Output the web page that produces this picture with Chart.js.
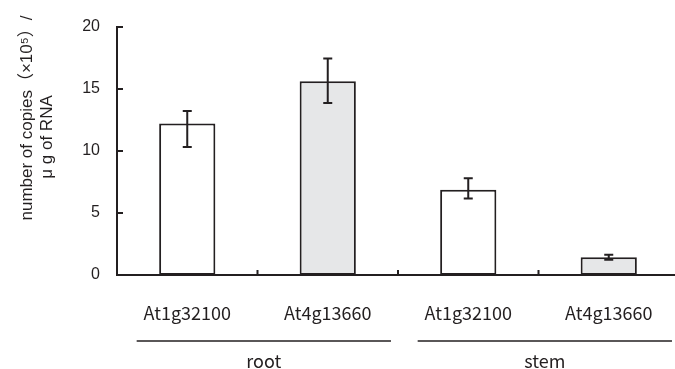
<!DOCTYPE html>
<html>
<head>
<meta charset="utf-8">
<script src="https://cdn.jsdelivr.net/npm/chart.js@4.4.1/dist/chart.umd.min.js"></script>
<style>
  html, body { margin: 0; padding: 0; background: #fff; overflow: hidden; }
  #wrap { width: 685px; height: 369px; }
</style>
</head>
<body>
<div id="wrap"><canvas id="chart" width="685" height="369"></canvas></div>
<script>
var categories = ['At1g32100', 'At4g13660', 'At1g32100', 'At4g13660'];
var groupNames = ['root', 'stem'];
var groupMembers = [[0, 1], [2, 3]];
var means = [12.2, 15.6, 6.87, 1.43];
var errLow = [10.3, 13.85, 6.15, 1.22];
var errHigh = [13.2, 17.43, 7.78, 1.63];
var yTicks = [0, 5, 10, 15, 20];
var yTitle = ['number of copies（×10⁵）/', 'μ g of RNA'];

var ink = '#231f20';
var fills = ['#ffffff', '#e6e7e8', '#ffffff', '#e6e7e8'];

var extras = {
    id: 'extras',
    afterDatasetsDraw: function (chart) {
        var ctx = chart.ctx;
        var x = chart.scales.x;
        var y = chart.scales.y;
        var area = chart.chartArea;
        var catW = (area.right - area.left) / categories.length;
        ctx.save();
        ctx.strokeStyle = ink;
        ctx.fillStyle = ink;
        ctx.lineWidth = 2;

        // error bars
        for (var i = 0; i < means.length; i++) {
            var cx = x.getPixelForValue(i);
            var top = y.getPixelForValue(errHigh[i]);
            var bot = y.getPixelForValue(errLow[i]);
            ctx.beginPath();
            ctx.moveTo(cx, top); ctx.lineTo(cx, bot);
            ctx.moveTo(cx - 4.5, top); ctx.lineTo(cx + 4.5, top);
            ctx.moveTo(cx - 4.5, bot); ctx.lineTo(cx + 4.5, bot);
            ctx.stroke();
        }

        // inward ticks on the y axis
        ctx.beginPath();
        yTicks.forEach(function (v) {
            if (v === 0) return;
            var py = Math.round(y.getPixelForValue(v));
            ctx.moveTo(area.left, py); ctx.lineTo(area.left + 6, py);
        });
        // inward ticks between categories
        for (var k = 1; k < categories.length; k++) {
            var bx = x.getPixelForValue(k) - catW / 2;
            ctx.moveTo(bx, area.bottom); ctx.lineTo(bx, area.bottom - 5);
        }
        ctx.stroke();

        // group underlines and names
        ctx.lineWidth = 1.5;
        ctx.font = '18px "Noto Sans CJK JP", "Liberation Sans", sans-serif';
        ctx.textAlign = 'center';
        ctx.textBaseline = 'middle';
        groupMembers.forEach(function (m, g) {
            var x0 = x.getPixelForValue(m[0]) - 0.36 * catW;
            var x1 = x.getPixelForValue(m[m.length - 1]) + 0.45 * catW;
            ctx.beginPath();
            ctx.moveTo(x0, 341); ctx.lineTo(x1, 341);
            ctx.stroke();
            ctx.fillText(groupNames[g], (x0 + x1) / 2, 361);
        });

        // y axis title, two rotated lines
        ctx.font = '17px "Liberation Sans", "Noto Sans CJK JP", sans-serif';
        var titlePos = [[27, 118], [47, 137]];
        yTitle.forEach(function (t, j) {
            ctx.save();
            ctx.translate(titlePos[j][0], titlePos[j][1]);
            ctx.rotate(-Math.PI / 2);
            ctx.fillText(t, 0, 0);
            ctx.restore();
        });
        ctx.restore();
    }
};

new Chart(document.getElementById('chart').getContext('2d'), {
    type: 'bar',
    data: {
        labels: categories,
        datasets: [{
            data: means,
            backgroundColor: fills,
            borderColor: ink,
            borderWidth: 2,
            borderSkipped: false,
            barPercentage: 0.4,
            categoryPercentage: 1.0
        }]
    },
    options: {
        responsive: false,
        animation: false,
        events: [],
        layout: { padding: { left: 0, right: 6, top: 18, bottom: 0 } },
        plugins: { legend: { display: false }, tooltip: { enabled: false } },
        scales: {
            x: {
                grid: { display: false, drawTicks: false },
                border: { display: true, color: ink, width: 2 },
                ticks: {
                    color: ink,
                    padding: 27,
                    font: { family: '"Noto Sans CJK JP", "Liberation Sans", sans-serif', size: 18 }
                },
                afterFit: function (s) { s.height = 94; }
            },
            y: {
                min: 0,
                max: 20,
                grid: { display: false, drawTicks: false },
                border: { display: true, color: ink, width: 2 },
                ticks: {
                    stepSize: 5,
                    color: ink,
                    padding: 17,
                    font: { family: '"Liberation Sans", Arial, sans-serif', size: 16 }
                },
                afterFit: function (s) { s.width = 117; }
            }
        }
    },
    plugins: [extras]
});
</script>
</body>
</html>
